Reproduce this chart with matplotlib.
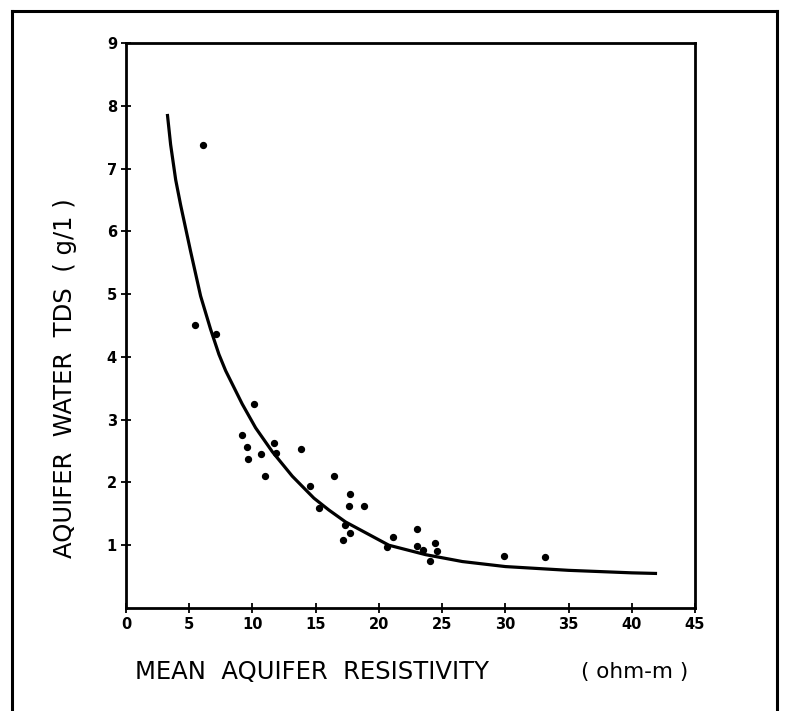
import matplotlib
matplotlib.use("Agg")
import matplotlib.pyplot as plt
from matplotlib.lines import Line2D

# Observed data points (mean aquifer resistivity, ohm-m ; TDS, g/l)
resistivity = [5.43, 6.11, 7.09, 9.19, 9.54, 9.64, 10.12, 10.67, 10.99, 11.70,
               11.83, 13.81, 14.55, 15.26, 16.44, 17.15, 17.31, 17.63, 17.68, 17.70,
               18.81, 20.66, 21.13, 23.03, 23.03, 23.48, 24.03, 24.40, 24.56, 29.90,
               33.10]
tds = [4.51, 7.37, 4.37, 2.75, 2.57, 2.38, 3.25, 2.45, 2.10, 2.63,
       2.47, 2.54, 1.95, 1.60, 2.10, 1.09, 1.33, 1.62, 1.20, 1.81,
       1.62, 0.97, 1.13, 1.26, 0.99, 0.93, 0.75, 1.04, 0.91, 0.83,
       0.81]

# Fitted curve
curve_x = [3.27, 3.53, 3.93, 4.32, 5.11, 5.90, 6.69, 7.35, 7.88, 9.19, 10.25,
           11.57, 13.15, 14.86, 16.05, 17.37, 20.79, 23.69, 26.60, 30.0, 35.0,
           40.0, 42.0]
curve_y = [7.87, 7.38, 6.82, 6.42, 5.68, 4.97, 4.44, 4.04, 3.78, 3.25, 2.87,
           2.49, 2.10, 1.75, 1.56, 1.37, 1.00, 0.85, 0.74, 0.66, 0.60,
           0.56, 0.55]

x_ticks = [0, 5, 10, 15, 20, 25, 30, 35, 40, 45]
y_ticks = [1, 2, 3, 4, 5, 6, 7, 8, 9]

W, H = 792, 711
fig = plt.figure(figsize=(W / 100, H / 100), dpi=100)
fig.patch.set_facecolor("white")

ax = fig.add_axes([126 / W, 1 - 608 / H, (695 - 126) / W, (608 - 43) / H])
ax.plot(curve_x, curve_y, color="black", lw=2.3, solid_capstyle="butt",
        solid_joinstyle="round")
ax.scatter(resistivity, tds, s=18, color="black", zorder=3)

ax.set_xlim(0, 45)
ax.set_ylim(0, 9)
ax.set_xticks(x_ticks)
ax.set_yticks(y_ticks)
ax.set_xticklabels([str(v) for v in x_ticks])
ax.set_yticklabels([str(v) for v in y_ticks])
for sp in ax.spines.values():
    sp.set_linewidth(2.0)
ax.tick_params(direction="inout", length=7, width=1.3, labelsize=10.5,
               colors="black")
ax.tick_params(axis="x", pad=3)
ax.tick_params(axis="y", pad=3)
for lab in ax.get_xticklabels() + ax.get_yticklabels():
    lab.set_fontweight("bold")

# axis titles
fig.text(135 / W, 1 - 672 / H, "MEAN  AQUIFER  RESISTIVITY", fontsize=17.5,
         ha="left", va="center")
fig.text(581 / W, 1 - 672 / H, "( ohm-m )", fontsize=15.5, ha="left", va="center")
fig.text(65 / W, 1 - 378 / H, "AQUIFER  WATER  TDS  ( g/1 )", fontsize=17.5,
         rotation=90, ha="center", va="center")

# outer frame (left, top, right)
lw = 2.2
fig.add_artist(Line2D([12 / W, 12 / W], [0, 1 - 11 / H], transform=fig.transFigure,
                      color="black", lw=lw))
fig.add_artist(Line2D([12 / W, 777 / W], [1 - 11 / H, 1 - 11 / H],
                      transform=fig.transFigure, color="black", lw=lw))
fig.add_artist(Line2D([777 / W, 777 / W], [0, 1 - 11 / H], transform=fig.transFigure,
                      color="black", lw=lw))

fig.savefig("out.png", dpi=100)
